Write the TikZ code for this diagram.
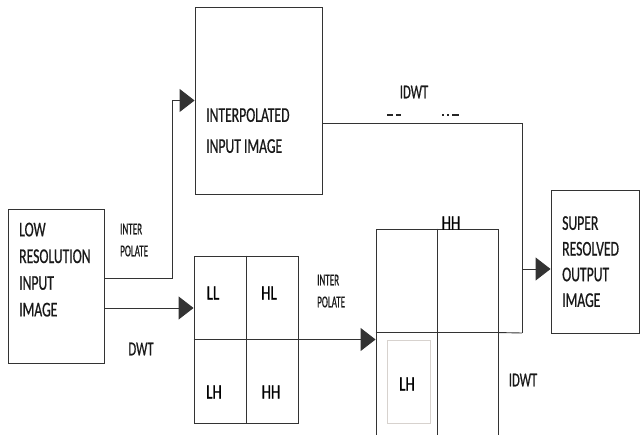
\documentclass[tikz,border=0pt]{standalone}
\usepackage{fontspec}
\newfontfamily\diagfont[FakeStretch=0.65, FakeBold=0.6]{Carlito}
\newfontfamily\diagband[FakeStretch=0.73, FakeBold=0.8]{Carlito}
\newfontfamily\diagsmall[FakeStretch=0.55, FakeBold=0.5]{Carlito}
\usetikzlibrary{arrows.meta, positioning, calc}

\begin{document}
\begin{tikzpicture}[x=1pt, y=-1pt,
    imgbox/.style={rectangle, draw=black!80, line width=0.9pt, inner sep=0pt},
    boxtext/.style={anchor=north west, inner sep=0pt, align=left, text=black!90, font=\diagfont\fontsize{21}{26.7}\selectfont},
    smalllabel/.style={anchor=north west, inner sep=0pt, align=left, text=black!90, font=\diagsmall\fontsize{16.5}{22}\selectfont},
    steplabel/.style={inner sep=0pt, text=black!90, font=\diagfont\fontsize{19.5}{21}\selectfont},
    band/.style={inner sep=0pt, text=black, font=\diagband\fontsize{20.5}{22}\selectfont},
    flow/.style={draw=black!80, line width=0.9pt},
    arrow/.style={flow, -{Triangle[length=15pt, width=23pt]}}
  ]
  \fill[white] (0,0) rectangle (640,435);
  \useasboundingbox (0,0) rectangle (640,435);

  % image boxes
  \node[imgbox, minimum width=96pt, minimum height=154pt] (low) at (56,286) {};
  \node[imgbox, minimum width=127pt, minimum height=187pt] (interp) at (258.5,100.5) {};
  \node[imgbox, minimum width=104pt, minimum height=167pt] (dwt) at (246,339.5) {};
  \node[imgbox, minimum width=122pt, minimum height=216pt] (up) at (437,337) {};
  \node[imgbox, minimum width=88pt, minimum height=143pt] (out) at (595,261.5) {};

  % sub-band grids
  \draw[flow] (dwt.north) -- (dwt.south);
  \draw[flow] (dwt.west) -- (dwt.east);
  \draw[flow] (up.north) -- (up.south);
  \draw[flow] ([yshift=-104pt]up.north west) -- ([yshift=-104pt]up.north east);
  \node[rectangle, draw=brown!20!gray!35, line width=0.7pt, minimum width=43pt, minimum height=83pt] (lhframe) at (408.5,381.5) {};

  \node[boxtext] (lowtxt) at (19,222.5) {LOW\\RESOLUTION\\INPUT\\IMAGE};
  \node[boxtext, font=\diagfont\fontsize{21}{31}\selectfont] (interptxt) at (206,108) {INTERPOLATED\\INPUT IMAGE};
  \node[boxtext, font=\diagfont\fontsize{21}{25.7}\selectfont] (outtxt) at (562,216) {SUPER\\RESOLVED\\OUTPUT\\IMAGE};

  \node[band] (ll) at (213,293) {LL};
  \node[band] (hl) at (269,293) {HL};
  \node[band] (lh) at (214,392) {LH};
  \node[band] (hh) at (271,392) {HH};
  \node[band] (uphh) at (451,223) {HH};
  \node[band] (uplh) at (407,384) {LH};

  % interpolate branch
  \draw[arrow] ([yshift=8pt]low.east) -- ++(68,0) |- (interp.west);
  \node[smalllabel] (interlbl) at (120,223.5) {INTER\\POLATE};

  % dwt branch
  \draw[arrow] ([yshift=-22pt]low.east) coordinate (dwtstart) -- (dwt.west |- dwtstart);
  \node[steplabel] (dwtlbl) at (141,349) {DWT};

  \draw[arrow] (dwt.east) -- (up.west |- dwt.east);
  \node[smalllabel] (interlbl2) at (317,274.5) {INTER\\POLATE};

  % idwt merge
  \coordinate (join) at (522,333);
  \coordinate (fork) at (522,269);
  \draw[flow] ([yshift=-22.5pt]interp.east) -| (join);
  \draw[flow] (join) -- ([yshift=-104pt]up.north east);
  \draw[arrow] (fork) -- (out.west |- fork);
  \node[steplabel] (idwtlbl) at (414,92) {IDWT};
  \node[steplabel] (idwtlbl2) at (523,380) {IDWT};
  \draw[line width=2pt, black!85] (387,115) -- (393,115) (396,115) -- (401,115)
    (442,115) -- (444,115) (447,115) -- (449,115) (452,115) -- (459,115);

\end{tikzpicture}
\end{document}
